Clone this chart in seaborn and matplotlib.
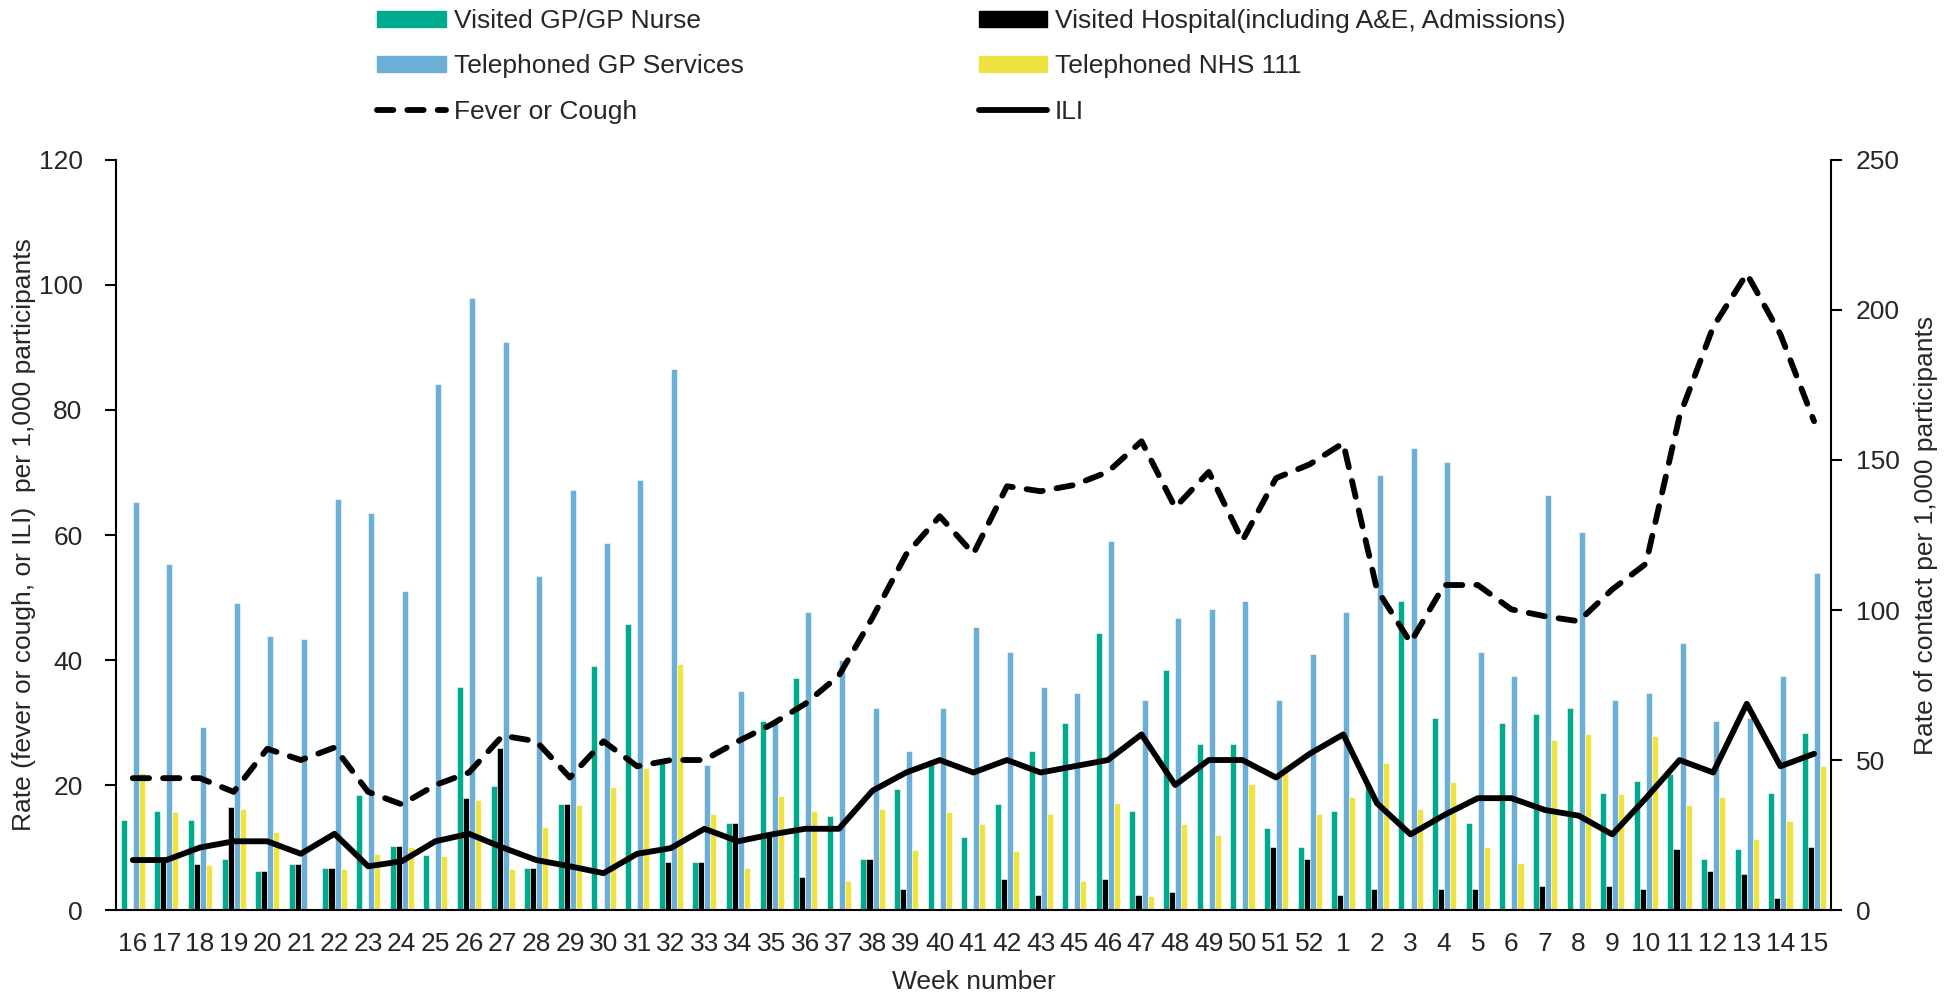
import numpy as np
import pandas as pd
import matplotlib
matplotlib.use("Agg")
import matplotlib.pyplot as plt
import seaborn as sns
from matplotlib.patches import Patch
from matplotlib.lines import Line2D

# week numbers (week 44 is missing in the source)
weeks = [str(w) for w in list(range(16, 44)) + list(range(45, 53)) + list(range(1, 16))]

# rates of contact per 1,000 participants (right axis)
visited_gp = [30.0, 33.1, 30.0, 17.1, 13.1, 15.3, 14.1, 38.2, 21.2, 18.3, 74.3, 41.2, 14.1,
              35.3, 81.3, 95.2, 49.2, 16.1, 29.0, 63.1, 77.4, 31.2, 17.1, 40.2, 50.1, 24.3,
              35.3, 53.1, 62.3, 92.3, 33.1, 80.1, 55.2, 55.2, 27.2, 21.0, 33.1,
              42.1, 103.0, 64.1, 29.0, 62.3, 65.3, 67.2, 39.0, 43.1, 45.3, 17.1, 20.2, 39.0, 59.1]
visited_hosp = [0.0, 16.6, 15.3, 34.3, 13.1, 15.3, 14.1, 0.0, 21.2, 0.0, 37.2, 54.1, 14.1,
                35.3, 0.0, 0.0, 16.1, 16.1, 29.0, 25.5, 11.0, 0.0, 17.1, 7.1, 0.0, 0.0,
                10.2, 5.1, 0.0, 10.2, 5.1, 6.1, 0.0, 0.0, 21.0, 17.1, 5.1,
                7.1, 0.0, 7.1, 7.1, 0.0, 8.1, 0.0, 8.1, 7.1, 20.2, 13.1, 12.0, 4.1, 21.0]
phoned_gp = [136.1, 115.4, 61.1, 102.3, 91.3, 90.3, 137.1, 132.4, 106.2, 175.3, 204.1, 189.4, 111.2,
             140.0, 122.4, 143.2, 180.2, 48.4, 73.1, 62.8, 99.3, 83.2, 67.2, 53.1, 67.2, 94.2,
             86.0, 74.2, 72.3, 123.0, 70.1, 97.2, 100.3, 103.0, 70.1, 85.4, 99.3,
             145.1, 154.1, 149.3, 86.0, 78.1, 138.3, 126.1, 70.1, 72.3, 89.1, 63.1, 64.1, 78.1, 112.2]
phoned_111 = [45.6, 32.8, 14.9, 33.8, 26.0, 0.0, 13.7, 18.8, 20.9, 18.0, 36.8, 13.7, 27.8,
              35.0, 40.9, 47.5, 82.0, 32.1, 13.9, 38.0, 32.9, 9.8, 33.8, 19.9, 32.8, 28.7,
              19.7, 32.1, 9.8, 35.8, 4.8, 28.7, 24.9, 41.9, 47.9, 32.1, 37.8,
              48.9, 33.8, 42.8, 20.9, 15.8, 56.8, 58.7, 38.7, 58.0, 35.0, 37.8, 23.8, 29.7, 47.9]

# rates of symptoms per 1,000 participants (left axis)
fever_cough = [21.1, 21.1, 21.1, 18.9, 25.8, 24.0, 26.0, 18.9, 16.9, 20.0, 22.0, 27.9, 27.0,
               21.2, 27.0, 23.0, 24.0, 24.0, 27.0, 29.7, 33.0, 37.5, 46.8, 56.9, 63.0, 57.0,
               67.8, 67.0, 68.0, 70.1, 75.0, 64.4, 70.1, 59.1, 69.1, 71.3, 74.7,
               51.3, 42.8, 52.0, 52.0, 48.1, 47.0, 46.2, 51.3, 55.4, 79.0, 93.3, 101.8, 92.1, 78.2]
ili = [8.0, 8.0, 10.0, 11.0, 11.0, 9.0, 12.2, 7.0, 7.8, 11.0, 12.2, 10.0, 8.0,
       7.0, 5.9, 9.0, 9.9, 13.0, 11.0, 12.1, 13.0, 13.0, 19.1, 22.0, 24.0, 22.0,
       24.0, 22.0, 23.0, 24.0, 28.1, 20.0, 24.0, 24.0, 21.2, 25.0, 28.1,
       17.1, 12.1, 15.2, 17.9, 17.9, 16.0, 15.1, 12.1, 17.9, 24.0, 22.0, 33.0, 23.0, 25.0]

bar_names = ["Visited GP/GP Nurse", "Visited Hospital(including A&E, Admissions)",
             "Telephoned GP Services", "Telephoned NHS 111"]
bar_colors = ["#00AA8C", "#000000", "#6BAED6", "#EEE342"]

sns.set_style("white")
plt.rcParams["font.family"] = ["Liberation Sans", "DejaVu Sans"]
FS = 19
LW = 4.2
DASH = (0, (2.8, 2.4))

bars = pd.DataFrame({"week": weeks, bar_names[0]: visited_gp, bar_names[1]: visited_hosp,
                     bar_names[2]: phoned_gp, bar_names[3]: phoned_111})
bars_long = bars.melt(id_vars="week", var_name="measure", value_name="rate")
n = len(weeks)
pos = np.arange(n)

fig = plt.figure(figsize=(19.55, 9.96), dpi=100)
ax = fig.add_axes([0.0593, 0.0863, 0.8772, 0.7531])
ax2 = ax.twinx()

sns.barplot(data=bars_long, x="week", y="rate", hue="measure", order=weeks,
            hue_order=bar_names, palette=bar_colors, saturation=1, width=0.72,
            errorbar=None, legend=False, ax=ax2, edgecolor="white", linewidth=0.4)

sns.lineplot(x=pos, y=fever_cough, ax=ax, color="black", linewidth=LW,
             linestyle=DASH, dash_capstyle="round")
sns.lineplot(x=pos, y=ili, ax=ax, color="black", linewidth=LW)

ax.set_zorder(ax2.get_zorder() + 1)
ax.patch.set_visible(False)

ax.set_xlim(-0.5, n - 0.5)
ax.set_ylim(0, 120)
ax2.set_ylim(0, 250)
ax.set_yticks(np.arange(0, 121, 20))
ax2.set_yticks(np.arange(0, 251, 50))
ax.set_xticks(pos)
ax.set_xticklabels(weeks)
ax.set_xticks(np.arange(-0.5, n, 1), minor=True)
ax.tick_params(axis="x", which="major", length=0, pad=16, labelsize=FS)
ax.tick_params(axis="x", which="minor", length=8, width=1.5, direction="out", color="black")
ax.tick_params(axis="y", length=8, width=1.5, direction="out", pad=16, labelsize=FS, color="black")
ax2.tick_params(axis="y", length=8, width=1.5, direction="out", pad=10, labelsize=FS, color="black")

for s in ["top", "right"]:
    ax.spines[s].set_visible(False)
for s in ["top", "left", "bottom"]:
    ax2.spines[s].set_visible(False)
for sp in [ax.spines["left"], ax.spines["bottom"], ax2.spines["right"]]:
    sp.set_color("black")
    sp.set_linewidth(1.5)

ax.set_xlabel("Week number", fontsize=FS, labelpad=10)
ax.set_ylabel("Rate (fever or cough, or ILI)  per 1,000 participants", fontsize=FS, labelpad=2)
ax2.set_ylabel("Rate of contact per 1,000 participants", fontsize=FS, labelpad=10)
ax2.set_xlabel("")

handles = [Patch(color=bar_colors[0]), Patch(color=bar_colors[2]),
           Line2D([], [], color="black", lw=LW, linestyle=DASH, dash_capstyle="round"),
           Patch(color=bar_colors[1]), Patch(color=bar_colors[3]),
           Line2D([], [], color="black", lw=LW)]
labels = [bar_names[0], bar_names[2], "Fever or Cough", bar_names[1], bar_names[3], "ILI"]
fig.legend(handles, labels, loc="upper left", bbox_to_anchor=(0.193, 0.991), ncol=2,
           frameon=False, fontsize=FS, handlelength=2.6, handleheight=0.55,
           handletextpad=0.3, columnspacing=8.9, labelspacing=0.81, borderpad=0.0,
           borderaxespad=0.0)

fig.savefig("out.png", dpi=100, facecolor="white")
